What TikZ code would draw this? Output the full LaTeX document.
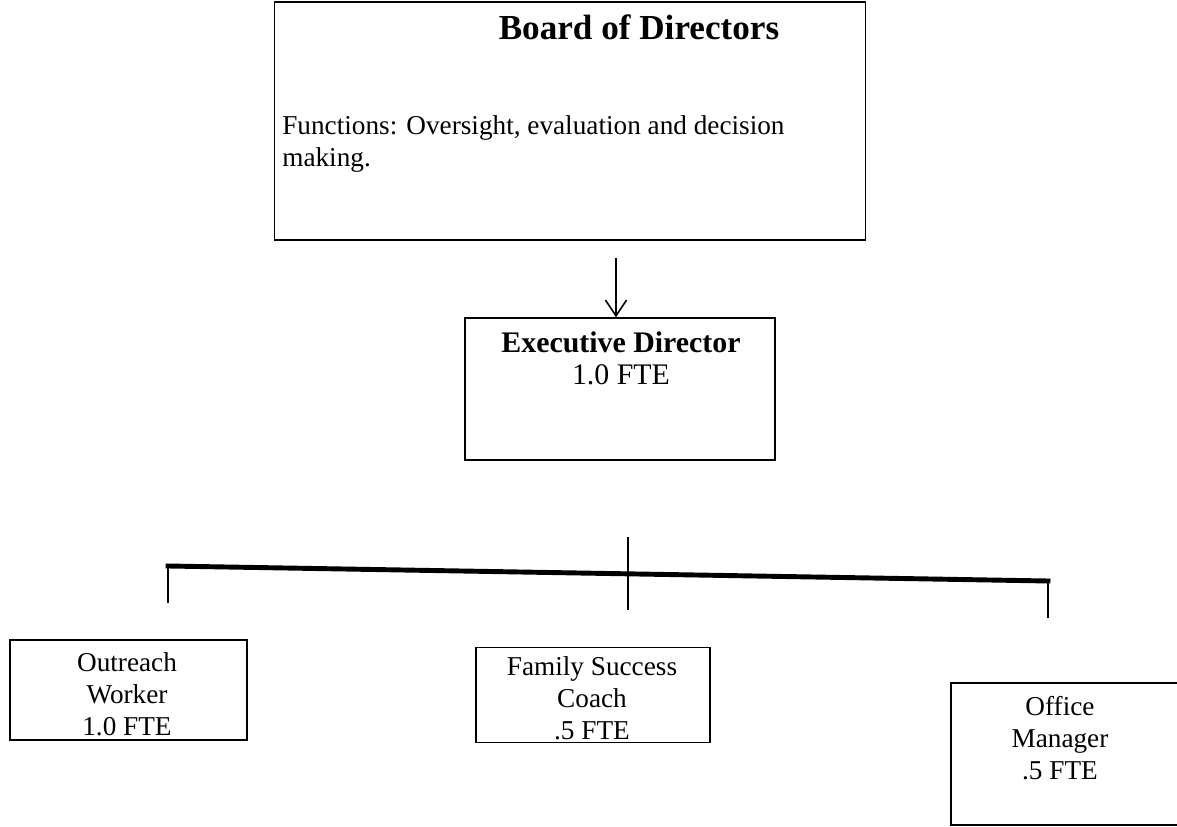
\documentclass[tikz,border=0pt]{standalone}
\usepackage{fontspec}
\setmainfont{Liberation Serif}
\usetikzlibrary{positioning,arrows.meta}

\begin{document}
\begin{tikzpicture}[x=0.02cm,y=-0.02cm]
		\tikzstyle{every node}+=[inner sep=0pt]
		\tikzstyle{box}=[draw, line width=0.8pt, rectangle]
		\tikzstyle{boxtext}=[align=center, font=\fontsize{15.5}{18.2}\selectfont]
		\useasboundingbox (0,0) rectangle (1177,827);
		% board
		\node[box, minimum width=11.82cm, minimum height=4.76cm] (board) at (570,121) {};
		\node[font=\fontsize{20}{22}\selectfont\bfseries] (boardtitle) at (639,27) {Board of Directors};
		\node[anchor=west, align=left, font=\fontsize{15.5}{18.2}\selectfont] (boardtext) at (282,144) {Functions: Oversight, evaluation and decision\\making.};
		% executive director
		\node[box, minimum width=6.2cm, minimum height=2.84cm] (exec) at (620,389) {};
		\node[boxtext, font=\fontsize{17}{18.2}\selectfont] (exectext) at (621,358) {\textbf{Executive Director}\\1.0 FTE};
		\coordinate (arrowtop) at (616,258);
		\draw[line width=0.9pt, -{Straight Barb[length=9pt,width=12pt]}] (arrowtop) -- (arrowtop |- exec.north);
		% bar
		\coordinate (barleft) at (168,566);
		\coordinate (barright) at (1048,581);
		\coordinate (midtop) at (628,537);
		\coordinate (midbottom) at (628,610);
		\draw[line width=2.8pt, line cap=rect] (barleft) -- (barright);
		\draw[line width=1.6pt] (barleft) -- ++(0,37);
		\draw[line width=1.6pt] (barright) -- ++(0,37);
		\draw[line width=1.6pt] (midtop) -- (midbottom);
		% staff
		\node[box, minimum width=4.74cm, minimum height=2.0cm] (outreach) at (128.5,690) {};
		\node[boxtext] (outreachtext) at (127,694) {Outreach\\Worker\\1.0 FTE};
		\node[box, minimum width=4.68cm, minimum height=1.9cm] (coach) at (593,695) {};
		\node[boxtext] (coachtext) at (592,698) {Family Success\\Coach\\.5 FTE};
		\node[box, minimum width=4.8cm, minimum height=2.84cm] (office) at (1071,754) {};
		\node[boxtext] (officetext) at (1060,738) {Office\\Manager\\.5 FTE};
\end{tikzpicture}
\end{document}
